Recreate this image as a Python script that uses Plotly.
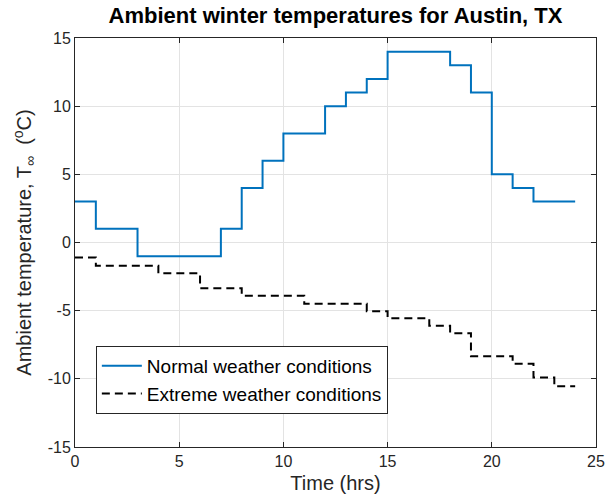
import plotly.graph_objects as go

# Hour marks (stairs: each value holds until the next hour)
hours = list(range(0, 25))

# Hourly ambient temperature, normal winter conditions (°C)
normal_temp = [3, 1, 1, -1, -1, -1, -1, 1, 4, 6, 8, 8, 10, 11, 12, 14, 14, 14,
               13, 11, 5, 4, 3, 3, 3]

# Hourly ambient temperature, extreme winter conditions (°C)
extreme_temp = [-1.1, -1.7, -1.7, -1.7, -2.25, -2.25, -3.35, -3.35, -3.9, -3.9,
                -3.9, -4.5, -4.5, -4.5, -5.05, -5.55, -5.55, -6.1, -6.65, -8.35,
                -8.35, -8.9, -9.9, -10.55, -10.55]

x_ticks = [0, 5, 10, 15, 20, 25]
y_ticks = [-15, -10, -5, 0, 5, 10, 15]
y_tick_labels = ["-15", "-10", "-5", "0", "5", "10", "15"]

FONT = "Liberation Sans, Arial, Helvetica, sans-serif"
AXIS_COLOR = "#262626"
GRID_COLOR = "#e3e3e3"

fig = go.Figure()

fig.add_trace(go.Scatter(
    x=hours, y=normal_temp, mode="lines", line_shape="hv",
    name="Normal weather conditions",
    line=dict(color="#0072BD", width=2),
))

fig.add_trace(go.Scatter(
    x=hours, y=extreme_temp, mode="lines", line_shape="hv",
    name="Extreme weather conditions",
    line=dict(color="#000000", width=2, dash="8px,5px"),
))

axis_common = dict(
    showgrid=True, gridcolor=GRID_COLOR, gridwidth=1,
    zeroline=False, automargin=False,
    showline=True, linecolor=AXIS_COLOR, linewidth=1, mirror="ticks",
    ticks="inside", ticklen=5, tickcolor=AXIS_COLOR, tickwidth=1,
    tickfont=dict(family=FONT, size=16, color=AXIS_COLOR),
)

fig.update_xaxes(
    range=[0, 25], tickvals=x_ticks,
    title=dict(text="Time (hrs)", font=dict(family=FONT, size=20, color=AXIS_COLOR),
               standoff=6),
    **axis_common,
)
fig.update_yaxes(
    range=[-15, 15], tickvals=y_ticks, ticktext=y_tick_labels,
    title=dict(text="Ambient temperature, T<sub>∞</sub>  (<sup>o</sup>C)",
               font=dict(family=FONT, size=20, color=AXIS_COLOR), standoff=10),
    **axis_common,
)

fig.update_layout(
    width=608, height=499,
    margin=dict(l=75, r=12, t=38, b=52),
    paper_bgcolor="white", plot_bgcolor="white",
    title=dict(text="<b>Ambient winter temperatures for Austin, TX</b>",
               x=0.5, xref="paper", xanchor="center",
               y=1, yref="container", yanchor="top", pad=dict(t=8),
               font=dict(family=FONT, size=22, color="#000000"), automargin=False),
    legend=dict(
        x=0.04, y=0.247, xanchor="left", yanchor="top",
        bgcolor="white", bordercolor=AXIS_COLOR, borderwidth=1,
        font=dict(family=FONT, size=19, color="#000000"),
        tracegroupgap=0, itemwidth=40,
    ),
)

fig.write_html("out.html")
